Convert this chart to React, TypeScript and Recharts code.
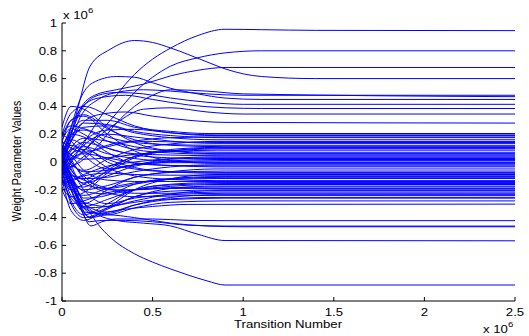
import React from 'react';
import { LineChart, Line, XAxis, YAxis } from 'recharts';

type Knot = [number, number];

// x: transition number (x 10^6), y: weight parameter value (x 10^6)
const upperSeries: Knot[][] = [
  [[0, 0], [0.05, 0.03], [0.1, 0.1], [0.2, 0.3], [0.3, 0.48], [0.4, 0.63], [0.5, 0.74], [0.6, 0.82], [0.75, 0.91], [0.9, 0.955], [1.1, 0.952], [1.4, 0.947], [2.5, 0.945]],
  [[0, 0], [0.04, 0.15], [0.09, 0.4], [0.155, 0.69], [0.265, 0.81], [0.4, 0.874], [0.5, 0.86], [0.6, 0.82], [0.8, 0.72], [0.9, 0.67], [1.1, 0.615], [1.4, 0.6], [2.5, 0.6]],
  [[0, 0.02], [0.06, 0.02], [0.12, 0.08], [0.2, 0.2], [0.3, 0.35], [0.4, 0.5], [0.5, 0.61], [0.6, 0.69], [0.75, 0.75], [0.9, 0.785], [1.1, 0.8], [2.5, 0.8]],
  [[0, 0.05], [0.05, 0.2], [0.1, 0.38], [0.18, 0.48], [0.3, 0.52], [0.45, 0.56], [0.6, 0.62], [0.75, 0.66], [0.9, 0.68], [2.5, 0.68]],
  [[0, 0], [0.05, 0.25], [0.1, 0.45], [0.17, 0.57], [0.3, 0.615], [0.4, 0.61], [0.5, 0.57], [0.6, 0.53], [0.75, 0.49], [0.9, 0.46], [1.1, 0.45], [2.5, 0.45]],
  [[0, -0.02], [0.05, 0.15], [0.1, 0.32], [0.2, 0.45], [0.3, 0.5], [0.45, 0.52], [0.6, 0.51], [0.8, 0.49], [1.0, 0.48], [2.5, 0.48]],
  [[0, 0.03], [0.05, 0.2], [0.1, 0.36], [0.2, 0.48], [0.3, 0.5], [0.45, 0.49], [0.6, 0.46], [0.8, 0.43], [1.0, 0.415], [2.5, 0.415]],
  [[0, 0.1], [0.05, 0.25], [0.1, 0.38], [0.2, 0.46], [0.35, 0.48], [0.5, 0.45], [0.7, 0.41], [0.9, 0.39], [1.1, 0.385], [2.5, 0.385]],
  [[0, 0], [0.05, 0.02], [0.12, 0.08], [0.2, 0.18], [0.3, 0.28], [0.45, 0.38], [0.6, 0.39], [0.8, 0.36], [1.0, 0.345], [2.5, 0.345]],
  [[0, 0.05], [0.05, 0.15], [0.1, 0.26], [0.2, 0.34], [0.35, 0.36], [0.5, 0.33], [0.7, 0.3], [0.9, 0.285], [2.5, 0.28]],
  [[0, -0.05], [0.1, 0.0], [0.2, 0.12], [0.3, 0.28], [0.4, 0.4], [0.5, 0.48], [0.6, 0.52], [0.8, 0.51], [1.0, 0.49], [2.5, 0.47]],
];

const bandSeries: Knot[][] = [
  [[0, 0.1], [0.05, 0.22], [0.12, 0.3], [0.25, 0.3], [0.4, 0.25], [0.6, 0.22], [0.8, 0.205], [2.5, 0.205]],
  [[0, -0.05], [0.05, 0.05], [0.12, 0.15], [0.25, 0.23], [0.4, 0.235], [0.6, 0.21], [0.85, 0.195], [2.5, 0.195]],
  [[0, 0.15], [0.05, 0.1], [0.12, 0.07], [0.25, 0.11], [0.4, 0.15], [0.6, 0.175], [0.85, 0.18], [2.5, 0.18]],
  [[0, 0.0], [0.05, 0.15], [0.12, 0.25], [0.25, 0.26], [0.4, 0.21], [0.6, 0.175], [0.85, 0.16], [2.5, 0.16]],
  [[0, 0.05], [0.05, -0.02], [0.12, -0.06], [0.25, 0.02], [0.4, 0.09], [0.6, 0.13], [0.85, 0.148], [2.5, 0.148]],
  [[0, -0.1], [0.05, 0.0], [0.12, 0.12], [0.25, 0.2], [0.4, 0.18], [0.6, 0.15], [0.85, 0.134], [2.5, 0.134]],
  [[0, 0.2], [0.05, 0.26], [0.12, 0.24], [0.25, 0.18], [0.4, 0.14], [0.6, 0.125], [0.85, 0.12], [2.5, 0.12]],
  [[0, 0.0], [0.05, -0.09], [0.12, -0.12], [0.25, -0.04], [0.4, 0.04], [0.6, 0.09], [0.85, 0.105], [2.5, 0.105]],
  [[0, 0.1], [0.05, 0.05], [0.12, 0.02], [0.25, 0.03], [0.4, 0.055], [0.6, 0.075], [0.85, 0.085], [2.5, 0.085]],
  [[0, -0.05], [0.05, 0.1], [0.12, 0.17], [0.25, 0.15], [0.4, 0.11], [0.6, 0.08], [0.85, 0.07], [2.5, 0.07]],
  [[0, 0.05], [0.05, 0.2], [0.12, 0.23], [0.25, 0.15], [0.4, 0.09], [0.6, 0.065], [0.85, 0.056], [2.5, 0.056]],
  [[0, -0.15], [0.05, -0.13], [0.12, -0.09], [0.25, -0.03], [0.4, 0.0], [0.6, 0.025], [0.85, 0.037], [2.5, 0.037]],
  [[0, 0.12], [0.05, 0.0], [0.12, -0.07], [0.25, -0.06], [0.4, -0.02], [0.6, 0.008], [0.85, 0.018], [2.5, 0.018]],
  [[0, 0.0], [0.05, 0.09], [0.12, 0.11], [0.25, 0.06], [0.4, 0.025], [0.6, 0.005], [0.85, 0], [2.5, 0]],
  [[0, 0.08], [0.05, -0.06], [0.12, -0.12], [0.25, -0.11], [0.4, -0.07], [0.6, -0.035], [0.85, -0.02], [2.5, -0.02]],
  [[0, -0.1], [0.05, 0.02], [0.12, 0.06], [0.25, 0.03], [0.4, -0.005], [0.6, -0.025], [0.85, -0.035], [2.5, -0.035]],
  [[0, 0.02], [0.05, -0.13], [0.12, -0.2], [0.25, -0.17], [0.4, -0.11], [0.6, -0.07], [0.85, -0.05], [2.5, -0.05]],
  [[0, -0.05], [0.05, 0.06], [0.12, 0.09], [0.25, 0.02], [0.4, -0.04], [0.6, -0.07], [0.85, -0.081], [2.5, -0.081]],
  [[0, 0.1], [0.05, -0.05], [0.12, -0.16], [0.25, -0.19], [0.4, -0.16], [0.6, -0.12], [0.85, -0.105], [2.5, -0.105]],
  [[0, -0.08], [0.05, -0.2], [0.12, -0.24], [0.25, -0.19], [0.4, -0.15], [0.6, -0.125], [0.85, -0.119], [2.5, -0.119]],
  [[0, 0.0], [0.05, 0.12], [0.12, 0.08], [0.25, -0.04], [0.4, -0.1], [0.6, -0.125], [0.85, -0.134], [2.5, -0.134]],
  [[0, -0.12], [0.05, -0.26], [0.12, -0.32], [0.25, -0.27], [0.4, -0.2], [0.6, -0.16], [0.85, -0.148], [2.5, -0.148]],
  [[0, 0.05], [0.05, -0.1], [0.12, -0.21], [0.25, -0.23], [0.4, -0.2], [0.6, -0.175], [0.85, -0.162], [2.5, -0.162]],
  [[0, -0.03], [0.05, -0.2], [0.12, -0.33], [0.25, -0.32], [0.4, -0.25], [0.6, -0.19], [0.85, -0.173], [2.5, -0.173]],
  [[0, 0.0], [0.05, -0.16], [0.12, -0.29], [0.25, -0.32], [0.4, -0.28], [0.6, -0.23], [0.85, -0.206], [2.5, -0.206]],
  [[0, -0.15], [0.05, -0.1], [0.12, -0.13], [0.25, -0.19], [0.4, -0.225], [0.6, -0.225], [0.85, -0.216], [2.5, -0.216]],
  [[0, 0.02], [0.05, -0.2], [0.12, -0.36], [0.25, -0.37], [0.4, -0.31], [0.6, -0.255], [0.85, -0.235], [2.5, -0.235]],
  [[0, 0.18], [0.05, 0.3], [0.12, 0.33], [0.25, 0.2], [0.4, 0.08], [0.6, 0.01], [0.85, -0.01], [2.5, -0.01]],
  [[0, -0.18], [0.05, -0.25], [0.12, -0.22], [0.25, -0.08], [0.4, 0.03], [0.6, 0.08], [0.85, 0.1], [2.5, 0.1]],
  [[0, 0.12], [0.05, 0.02], [0.12, -0.12], [0.25, -0.22], [0.4, -0.25], [0.6, -0.245], [0.85, -0.24], [2.5, -0.24]],
  [[0, 0.2], [0.05, 0.35], [0.12, 0.4], [0.25, 0.34], [0.4, 0.26], [0.6, 0.21], [0.85, 0.19], [2.5, 0.19]],
  [[0, -0.2], [0.05, -0.3], [0.12, -0.28], [0.25, -0.22], [0.4, -0.2], [0.6, -0.19], [2.5, -0.19]],
  [[0, 0.25], [0.05, 0.4], [0.12, 0.38], [0.25, 0.25], [0.4, 0.14], [0.6, 0.08], [0.85, 0.06], [2.5, 0.06]],
  [[0, -0.12], [0.05, -0.35], [0.12, -0.42], [0.25, -0.33], [0.4, -0.2], [0.6, -0.12], [0.85, -0.09], [2.5, -0.09]],
  [[0, 0.2], [0.05, 0.15], [0.12, 0.05], [0.25, -0.05], [0.4, -0.02], [0.6, 0.02], [0.85, 0.03], [2.5, 0.03]],
];

const bandSeriesExtra: Knot[][] = [
  [[0, 0.06], [0.05, 0.18], [0.12, 0.28], [0.25, 0.27], [0.4, 0.22], [0.6, 0.19], [0.9, 0.175], [2.5, 0.175]],
  [[0, -0.08], [0.05, -0.04], [0.12, 0.04], [0.25, 0.12], [0.4, 0.15], [0.6, 0.145], [0.9, 0.14], [2.5, 0.14]],
  [[0, 0.14], [0.05, 0.3], [0.12, 0.34], [0.25, 0.24], [0.4, 0.16], [0.6, 0.12], [0.9, 0.11], [2.5, 0.11]],
  [[0, -0.02], [0.05, -0.16], [0.12, -0.18], [0.25, -0.06], [0.4, 0.04], [0.6, 0.08], [0.9, 0.095], [2.5, 0.095]],
  [[0, 0.16], [0.05, 0.24], [0.12, 0.2], [0.25, 0.1], [0.4, 0.06], [0.6, 0.05], [0.9, 0.045], [2.5, 0.045]],
  [[0, -0.06], [0.05, 0.08], [0.12, 0.14], [0.25, 0.1], [0.4, 0.05], [0.6, 0.03], [0.9, 0.025], [2.5, 0.025]],
  [[0, 0.04], [0.05, -0.08], [0.12, -0.15], [0.25, -0.1], [0.4, -0.03], [0.6, 0.0], [0.9, 0.01], [2.5, 0.01]],
  [[0, -0.12], [0.05, -0.2], [0.12, -0.16], [0.25, -0.07], [0.4, -0.02], [0.6, -0.005], [0.9, -0.005], [2.5, -0.005]],
  [[0, 0.1], [0.05, 0.2], [0.12, 0.18], [0.25, 0.07], [0.4, -0.01], [0.6, -0.025], [0.9, -0.028], [2.5, -0.028]],
  [[0, -0.04], [0.05, -0.24], [0.12, -0.3], [0.25, -0.2], [0.4, -0.11], [0.6, -0.075], [0.9, -0.065], [2.5, -0.065]],
  [[0, 0.07], [0.05, 0.16], [0.12, 0.12], [0.25, 0.0], [0.4, -0.05], [0.6, -0.07], [0.9, -0.075], [2.5, -0.075]],
  [[0, -0.16], [0.05, -0.14], [0.12, -0.1], [0.25, -0.08], [0.4, -0.09], [0.6, -0.095], [0.9, -0.095], [2.5, -0.095]],
  [[0, 0.03], [0.05, -0.1], [0.12, -0.26], [0.25, -0.24], [0.4, -0.16], [0.6, -0.12], [0.9, -0.11], [2.5, -0.11]],
  [[0, 0.12], [0.05, 0.05], [0.12, -0.06], [0.25, -0.13], [0.4, -0.14], [0.6, -0.14], [0.9, -0.14], [2.5, -0.14]],
  [[0, -0.1], [0.05, -0.28], [0.12, -0.38], [0.25, -0.3], [0.4, -0.2], [0.6, -0.165], [0.9, -0.155], [2.5, -0.155]],
  [[0, 0.08], [0.05, 0.0], [0.12, -0.1], [0.25, -0.2], [0.4, -0.2], [0.6, -0.185], [0.9, -0.18], [2.5, -0.18]],
  [[0, -0.06], [0.05, -0.3], [0.12, -0.4], [0.25, -0.34], [0.4, -0.25], [0.6, -0.21], [0.9, -0.2], [2.5, -0.2]],
  [[0, 0.15], [0.05, -0.02], [0.12, -0.2], [0.25, -0.3], [0.4, -0.26], [0.6, -0.235], [0.9, -0.225], [2.5, -0.225]],
  [[0, -0.02], [0.05, -0.18], [0.12, -0.3], [0.25, -0.36], [0.4, -0.31], [0.6, -0.27], [0.9, -0.26], [2.5, -0.26]],
  [[0, 0.04], [0.05, -0.14], [0.12, -0.33], [0.25, -0.38], [0.4, -0.33], [0.6, -0.29], [0.9, -0.28], [2.5, -0.28]],
];

const lowerSeries: Knot[][] = [
  [[0, 0], [0.05, -0.1], [0.1, -0.24], [0.2, -0.45], [0.265, -0.54], [0.4, -0.66], [0.5, -0.72], [0.6, -0.77], [0.7, -0.815], [0.8, -0.855], [0.9, -0.885], [2.5, -0.885]],
  [[0, 0.05], [0.05, -0.1], [0.1, -0.25], [0.2, -0.38], [0.3, -0.42], [0.45, -0.44], [0.6, -0.46], [0.75, -0.52], [0.9, -0.565], [2.5, -0.567]],
  [[0, 0.02], [0.05, -0.15], [0.1, -0.32], [0.16, -0.46], [0.22, -0.43], [0.3, -0.41], [0.5, -0.41], [0.7, -0.42], [0.9, -0.422], [2.5, -0.422]],
  [[0, -0.05], [0.05, -0.2], [0.1, -0.33], [0.15, -0.43], [0.22, -0.42], [0.35, -0.42], [0.5, -0.43], [0.7, -0.455], [0.9, -0.461], [2.5, -0.461]],
  [[0, 0], [0.06, -0.18], [0.12, -0.36], [0.16, -0.4], [0.25, -0.38], [0.4, -0.4], [0.6, -0.44], [0.8, -0.46], [1.0, -0.466], [2.5, -0.466]],
  [[0, 0.05], [0.05, -0.12], [0.1, -0.3], [0.15, -0.4], [0.22, -0.37], [0.35, -0.34], [0.5, -0.32], [0.7, -0.305], [2.5, -0.303]],
  [[0, 0.08], [0.05, -0.1], [0.1, -0.28], [0.16, -0.37], [0.25, -0.33], [0.4, -0.29], [0.6, -0.265], [0.8, -0.255], [2.5, -0.254]],
];

const xTicks = [0, 0.5, 1, 1.5, 2, 2.5];
const yTicks = [-1, -0.8, -0.6, -0.4, -0.2, 0, 0.2, 0.4, 0.6, 0.8, 1];
const xTitle = 'Transition Number';
const yTitle = 'Weight Parameter Values';
const scaleBase = 'x 10';
const scaleExp = '6';

const FONT = '"Liberation Sans", Arial, Helvetica, sans-serif';
const BLUE = '#0000ff';

const allSeries = [...upperSeries, ...bandSeries, ...bandSeriesExtra, ...lowerSeries].map((s) =>
  s.map(([x, y]) => ({ x, y }))
);

const XTick = (props: any) => {
  const { x, y, payload } = props;
  return (
    <text
      transform={`translate(${x} ${y}) scale(1.2 1)`}
      textAnchor="middle"
      dy="0.35em"
      fontSize={11}
      fontFamily={FONT}
      fill="#000"
    >
      {String(payload.value)}
    </text>
  );
};

const YTick = (props: any) => {
  const { x, y, payload } = props;
  return (
    <text
      transform={`translate(${x} ${y}) scale(1.2 1)`}
      textAnchor="end"
      dy="0.35em"
      fontSize={11}
      fontFamily={FONT}
      fill="#000"
    >
      {String(payload.value)}
    </text>
  );
};

const axisStroke = { stroke: '#000', strokeWidth: 1 };

export default function App() {
  return (
    <div
      style={{
        position: 'absolute',
        left: 0,
        top: 0,
        width: 529,
        height: 336,
        background: '#fff',
        fontFamily: FONT,
        color: '#000',
        overflow: 'hidden',
      }}
    >
      <LineChart width={529} height={336} margin={{ top: 23, right: 14, bottom: 0, left: 0 }}>
        <XAxis
          xAxisId="b"
          dataKey="x"
          type="number"
          domain={[0, 2.5]}
          ticks={xTicks}
          orientation="bottom"
          height={35}
          tickSize={-4}
          tickMargin={15}
          axisLine={axisStroke}
          tickLine={axisStroke}
          tick={<XTick />}
          allowDataOverflow
        />
        <XAxis
          xAxisId="t"
          dataKey="x"
          type="number"
          domain={[0, 2.5]}
          ticks={xTicks}
          orientation="top"
          height={0}
          tickSize={-4}
          axisLine={axisStroke}
          tickLine={axisStroke}
          tick={false}
          allowDataOverflow
        />
        <YAxis
          yAxisId="l"
          type="number"
          domain={[-1, 1]}
          ticks={yTicks}
          orientation="left"
          width={62}
          tickSize={-4}
          tickMargin={9}
          axisLine={axisStroke}
          tickLine={axisStroke}
          tick={<YTick />}
          allowDataOverflow
        />
        <YAxis
          yAxisId="r"
          type="number"
          domain={[-1, 1]}
          ticks={yTicks}
          orientation="right"
          width={0}
          tickSize={-4}
          axisLine={axisStroke}
          tickLine={axisStroke}
          tick={false}
          allowDataOverflow
        />
        {allSeries.map((d, i) => (
          <Line
            key={i}
            data={d}
            xAxisId="b"
            yAxisId="l"
            dataKey="y"
            type="monotone"
            stroke={BLUE}
            strokeWidth={1}
            dot={false}
            activeDot={false}
            isAnimationActive={false}
          />
        ))}
      </LineChart>
      <div
        style={{
          position: 'absolute',
          left: 288,
          top: 324,
          transform: 'translate(-50%, -50%) scale(1.2, 1)',
          fontSize: 11,
          whiteSpace: 'nowrap',
          lineHeight: 1,
        }}
      >
        {xTitle}
      </div>
      <div
        style={{
          position: 'absolute',
          left: 17,
          top: 161,
          transform: 'translate(-50%, -50%) rotate(-90deg) scale(1, 1.2)',
          fontSize: 10.7,
          whiteSpace: 'nowrap',
          lineHeight: 1,
        }}
      >
        {yTitle}
      </div>
      <div
        style={{
          position: 'absolute',
          left: 63,
          top: 10,
          fontSize: 11,
          whiteSpace: 'nowrap',
          lineHeight: 1,
          transform: 'scale(1.2, 1)',
          transformOrigin: 'left top',
        }}
      >
        {scaleBase}
        <span style={{ fontSize: 8, position: 'relative', top: -6 }}>{scaleExp}</span>
      </div>
      <div
        style={{
          position: 'absolute',
          left: 483,
          top: 324,
          fontSize: 11,
          whiteSpace: 'nowrap',
          lineHeight: 1,
          transform: 'scale(1.2, 1)',
          transformOrigin: 'left top',
        }}
      >
        {scaleBase}
        <span style={{ fontSize: 8, position: 'relative', top: -6 }}>{scaleExp}</span>
      </div>
    </div>
  );
}
